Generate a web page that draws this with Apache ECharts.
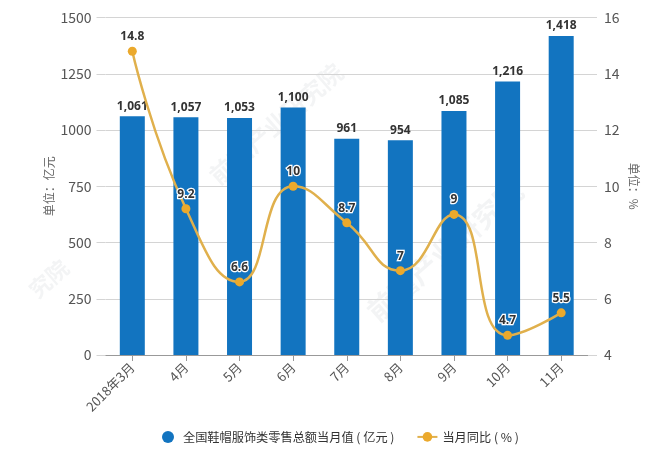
<!DOCTYPE html>
<html><head><meta charset="utf-8">
<style>html,body{margin:0;padding:0;background:#fff}#c{width:654px;height:450px}</style>
<script src="https://cdn.jsdelivr.net/npm/echarts@6/dist/echarts.min.js"></script>
</head><body><div id="c"></div>
<script>
const categories = ['2018年3月','4月','5月','6月','7月','8月','9月','10月','11月'];
const retailValues = [1061,1057,1053,1100,961,954,1085,1216,1418];
const yoyValues = [14.8,9.2,6.6,10,8.7,7,9,4.7,5.5];
const barName = '全国鞋帽服饰类零售总额当月值 ( 亿元 )';
const lineName = '当月同比 ( % )';
const font = '"Noto Sans CJK SC","Noto Sans",sans-serif';
const narrow = '"Liberation Sans Narrow","Noto Sans CJK SC",sans-serif';
const bold = '"Open Sans","Noto Sans",sans-serif';
const wm = (x,y,s,t) => ({type:'text',x,y,rotation:0.72,silent:true,z:0,style:{text:t,fill:'rgba(120,130,140,0.09)',font:`bold ${s}px ${font}`}});
const chart = echarts.init(document.getElementById('c'),null,{renderer:'canvas'});
chart.setOption({
  animation:false,
  textStyle:{fontFamily:font},
  graphic:[wm(205,170,24,'前瞻产业研究院'),wm(362,305,28,'前瞻产业研究院'),wm(25,285,22,'究院')],
  grid:{left:105.5,right:66,top:17.5,bottom:95,containLabel:false},
  legend:{
    bottom:2,left:157,itemWidth:20,itemHeight:12,itemGap:22,
    textStyle:{color:'#333',fontSize:12.2,fontFamily:font},
    data:[{name:barName,icon:'circle'},{name:lineName}]
  },
  xAxis:{type:'category',data:categories,
    axisLine:{lineStyle:{color:'#999'}},
    axisTick:{show:true,alignWithLabel:true,length:6,lineStyle:{color:'#999'}},
    axisLabel:{rotate:45,color:'#555',fontSize:13,margin:10,interval:0,fontFamily:narrow}},
  yAxis:[
    {type:'value',min:0,max:1500,interval:250,name:'单位：亿元',nameLocation:'middle',nameGap:50,nameMoveOverlap:false,
     nameTextStyle:{color:'#666',fontSize:12},
     axisLine:{show:false},axisTick:{show:true,length:9,lineStyle:{color:'#d4d4d4'}},
     axisLabel:{color:'#555',fontSize:14,margin:14,fontFamily:narrow,formatter:v=>String(v)},
     splitLine:{lineStyle:{color:'#d4d4d4'}}},
    {type:'value',min:4,max:16,interval:2,name:'单位：%',nameLocation:'middle',nameGap:40,nameMoveOverlap:false,nameRotate:-90,
     nameTextStyle:{color:'#666',fontSize:12},
     axisLine:{show:false},axisTick:{show:true,length:9,lineStyle:{color:'#d4d4d4'}},
     axisLabel:{color:'#555',fontSize:14,margin:16,fontFamily:narrow},
     splitLine:{show:false}}
  ],
  series:[
    {name:barName,type:'bar',data:retailValues,barWidth:25,itemStyle:{color:'#1274c0'},z:2,
     label:{show:true,position:'top',distance:4,color:'#333',fontSize:12,fontWeight:'bold',
       fontFamily:bold,formatter:p=>p.value.toLocaleString('en-US')}},
    {name:lineName,type:'line',yAxisIndex:1,data:yoyValues,smooth:0.5,symbol:'circle',symbolSize:9,z:3,
     lineStyle:{color:'#e0b04c',width:2.5},itemStyle:{color:'#eba92c'},
     label:{show:true,position:'top',distance:4,color:'#333',fontSize:12,fontWeight:'bold',
       fontFamily:bold,textBorderColor:'#fff',textBorderWidth:2.5}}
  ]
});
</script></body></html>
